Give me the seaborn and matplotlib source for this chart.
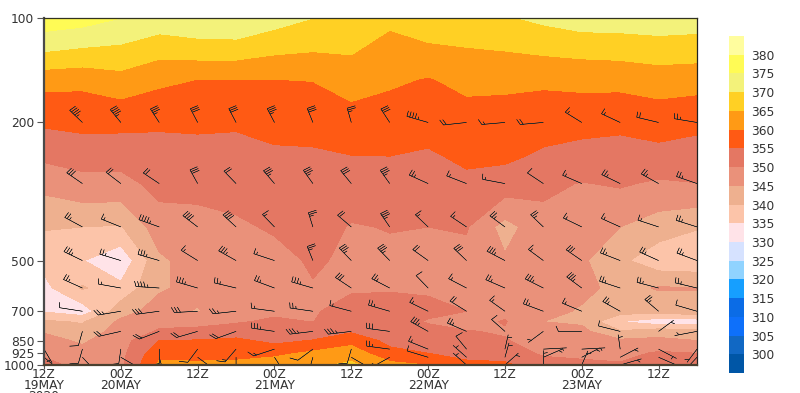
import numpy as np
import matplotlib
matplotlib.use("Agg")
import matplotlib.pyplot as plt
from matplotlib.colors import BoundaryNorm, ListedColormap
from matplotlib.transforms import Affine2D
import seaborn as sns

sns.set_theme(style="ticks")
plt.rcParams['font.family'] = ['DejaVu Sans']

hours = [6 * i for i in range(18)]
pressure = [100, 125, 150, 175, 200, 250, 300, 400, 500, 600, 700, 750, 800, 850, 925, 1000]
theta_100 = [378, 377, 375, 372.9, 374, 374.5, 372, 370, 368.5, 366, 368.6, 368, 369.5, 371, 372.4, 372.5, 373, 372.5]
theta_125 = [370, 368.9, 368.4, 366.3, 367, 367, 365.6, 365, 365.3, 363, 363.5, 364.5, 364.9, 365.6, 366.1, 366.4, 366.9, 366.7]
theta_150 = [362, 361.6, 363.3, 361.2, 360, 360, 360, 360.2, 362.5, 360.8, 359.7, 361.3, 360.7, 361, 361.6, 361.7, 362.7, 362.3]
theta_175 = [358.1, 358.3, 359.4, 358, 357.8, 357.8, 358, 358, 359.9, 359, 358.1, 359.5, 359.6, 358.7, 358.7, 358.5, 359.5, 358.8]
theta_200 = [355.7, 356.3, 356.3, 355.6, 355.8, 355.5, 356.4, 356.4, 358.1, 357.5, 356.7, 358.2, 358.2, 356.9, 356.8, 356.3, 357.3, 356.1]
theta_250 = [351, 352, 351.8, 353.2, 353.3, 353.5, 354.2, 354.4, 354.9, 355, 354.4, 355.9, 355.9, 354.2, 352.9, 352.5, 353.2, 352.9]
theta_300 = [346.4, 348.3, 348.4, 351.5, 351.2, 351.8, 352.8, 353.3, 352.2, 353.1, 352.6, 353.9, 352.7, 350.9, 349.8, 350.5, 349.3, 349.9]
theta_400 = [340.4, 340, 339.6, 347.6, 348.5, 349.2, 350.6, 351.8, 349.7, 350.2, 350, 350.4, 343, 348.5, 347, 345, 342.2, 340.3]
theta_500 = [336.4, 335.2, 331, 344, 347.5, 347.5, 348.2, 350.7, 349, 349, 349, 348.5, 345.7, 347.5, 345.8, 341, 337, 336.5]
theta_600 = [333.5, 340.5, 336.4, 344.4, 346.5, 347, 347.5, 349.6, 349.4, 349.7, 349.5, 348.3, 347.5, 347.8, 346.5, 343.3, 345.4, 345.2]
theta_700 = [334.5, 332, 343, 347, 344.6, 348, 349, 349.5, 351.9, 351.5, 351, 350, 349, 347, 344.3, 342, 342, 343.5]
theta_750 = [340.8, 339.5, 346, 348.8, 349, 349.5, 350.8, 349.9, 352.8, 352.2, 349.6, 348.5, 350.3, 345, 344.2, 335, 331.5, 332]
theta_800 = [344.6, 342, 347, 350.5, 350.8, 352.5, 352.3, 352.2, 354.4, 353, 351.5, 350.2, 349.6, 347, 346.3, 340.5, 343, 342]
theta_850 = [346.5, 344.3, 348, 355, 355.3, 356, 353.7, 355.2, 358.3, 353.6, 353.3, 351.3, 350.3, 348, 347.5, 345.8, 346, 345]
theta_925 = [349.5, 346.5, 348.5, 358.5, 358, 358.6, 358.7, 361, 362.7, 356.5, 355, 353.7, 352.5, 349.3, 349, 348.3, 350.7, 350]
theta_1000 = [351, 349, 349, 361, 361, 361, 363, 364, 366, 361.5, 360, 356, 356, 352, 351, 350.6, 353, 351]
theta_rows = [theta_100, theta_125, theta_150, theta_175, theta_200, theta_250, theta_300, theta_400,
              theta_500, theta_600, theta_700, theta_750, theta_800, theta_850, theta_925, theta_1000]

n = np.nan
barb_levels = [200, 300, 400, 500, 600, 700, 800, 900, 950, 1000]
dir_200 = [n, 327, 333, 338, 342, 342, 342, 346, 350, 338, 295, 260, 262, 262, 315, 307, 291, 285]
spd_200 = [n, 45, 45, 35, 30, 30, 35, 30, 25, 30, 45, 20, 15, 20, 15, 15, 20, 25]
dir_300 = [n, 318, 321, 317, 341, 329, 332, 336, 333, 336, 306, 302, 287, 317, 305, 308, 312, 299]
spd_300 = [n, 30, 20, 20, 30, 20, 35, 35, 30, 35, 25, 15, 15, 10, 15, 25, 25, 25]
dir_400 = [n, 311, 303, 300, 321, 326, 329, 349, 324, 337, 327, 317, 320, 327, 308, 306, 298, 297]
spd_400 = [n, 25, 15, 45, 40, 40, 15, 25, 20, 35, 15, 15, 25, 25, 15, 15, 15, 25]
dir_500 = [n, 308, 296, 295, 315, 312, 298, 346, 329, 329, 319, 327, 310, 320, 318, 302, 306, 301]
spd_500 = [n, 35, 25, 35, 15, 35, 15, 25, 35, 35, 20, 30, 35, 15, 30, 25, 25, 25]
dir_600 = [n, 306, 286, 276, 295, 291, 301, 295, 317, 310, 329, 310, 305, 309, 320, 298, 293, 291]
spd_600 = [n, 25, 15, 45, 35, 25, 25, 35, 30, 25, 10, 15, 25, 35, 35, 25, 25, 25]
dir_700 = [n, 284, 255, 258, 265, 260, 282, 283, 293, 295, 308, 315, 319, 301, 304, 312, 324, 295]
spd_700 = [n, 10, 25, 30, 30, 25, 15, 25, 15, 25, 15, 20, 15, 25, 15, 25, 25, 10]
dir_800 = [n, 190, 250, 238, 245, 240, 283, 259, 259, 282, 312, 305, 325, 220, 270, 292, 40, 253]
spd_800 = [n, 10, 20, 20, 20, 20, 35, 35, 35, 30, 35, 25, 10, 5, 10, 10, 5, 5]
dir_900 = [160, 190, 185, 180, 205, 208, 242, 220, 190, 282, 303, 333, 8, 85, 85, 355, 130, 205]
spd_900 = [5, 10, 10, 10, 10, 15, 15, 10, 10, 25, 15, 10, 5, 5, 5, 5, 5, 5]
dir_950 = [143, 150, 133, 170, 140, 180, 158, 190, 133, 228, 296, 325, 10, 55, 50, 50, 125, 210]
spd_950 = [5, 5, 5, 5, 5, 5, 5, 5, 5, 5, 10, 5, 5, 5, 5, 5, 5, 5]
dir_1000 = [n, n, n, n, n, n, n, n, n, n, n, 325, 35, 0, 15, 65, n, n]
spd_1000 = [n, n, n, n, n, n, n, n, n, n, n, 5, 5, 5, 5, 5, n, n]
dir_rows = [dir_200, dir_300, dir_400, dir_500, dir_600, dir_700, dir_800, dir_900, dir_950, dir_1000]
spd_rows = [spd_200, spd_300, spd_400, spd_500, spd_600, spd_700, spd_800, spd_900, spd_950, spd_1000]

contour_levels = list(range(295, 390, 5))
colors = ["#0056a6", "#1168c4", "#0e70fa", "#0b6ce6", "#169fff", "#90d3ff", "#d6e2ff", "#ffe3e8", "#fcc4a9",
          "#eeb08f", "#ea917a", "#e47763", "#ff5a14", "#ff9a15", "#ffd024", "#f3f27a", "#fffb55", "#fffd9e"]
cbar_ticks = list(range(300, 385, 5))
pressure_ticks = [100, 200, 500, 700, 850, 925, 1000]
time_ticks = [0, 12, 24, 36, 48, 60, 72, 84, 96]
time_labels = ["12Z\n19MAY\n2020", "00Z\n20MAY", "12Z", "00Z\n21MAY", "12Z", "00Z\n22MAY", "12Z", "00Z\n23MAY", "12Z"]

W, H = 800, 393
fig = plt.figure(figsize=(W / 100, H / 100), dpi=100)
ax = fig.add_axes([44 / W, 1 - 365 / H, 653 / W, 347 / H])
palette = sns.color_palette(colors)
cmap = ListedColormap(palette)
norm = BoundaryNorm(contour_levels, cmap.N)
cf = ax.contourf(hours, pressure, np.array(theta_rows), levels=contour_levels, cmap=cmap, norm=norm)

SQUASH = 0.62
for lev, ds, ss in zip(barb_levels, dir_rows, spd_rows):
    d = np.radians(np.array(ds, dtype=float))
    s = np.array(ss, dtype=float)
    ok = np.isfinite(d)
    h = np.array(hours, dtype=float)[ok]
    b = ax.barbs(h, np.full(h.shape, lev, dtype=float), -s[ok] * np.sin(d[ok]), -s[ok] * np.cos(d[ok]),
                 length=5.8, linewidth=0.35, barbcolor="#2a2a2a", pivot="tip",
                 sizes=dict(spacing=0.13, height=0.36, width=0.2))
    b.set_transform(Affine2D().scale(1, SQUASH))

ax.set_yscale("log")
ax.set_ylim(1000, 100)
ax.set_xlim(0, 102)
ax.set_yticks(pressure_ticks)
ax.set_yticklabels([str(p) for p in pressure_ticks])
ax.minorticks_off()
ax.set_xticks(time_ticks)
ax.set_xticklabels(time_labels, linespacing=0.82)
ax.tick_params(axis="y", length=5, width=0.8, color="#555555", labelsize=8.8, labelcolor="#333333", pad=2)
ax.tick_params(axis="x", length=3, width=0.8, color="#555555", labelsize=8.8, labelcolor="#333333", pad=-1)
for side, lw, c in [("left", 1.6, "#4a4a4a"), ("bottom", 1.6, "#4a4030"), ("top", 0.9, "#333320"), ("right", 0.9, "#222222")]:
    ax.spines[side].set_linewidth(lw)
    ax.spines[side].set_color(c)

cax = fig.add_axes([729 / W, 1 - 373 / H, 15 / W, 337 / H])
cb = fig.colorbar(cf, cax=cax, ticks=cbar_ticks, spacing="uniform")
cb.outline.set_visible(False)
cb.ax.minorticks_off()
cb.ax.tick_params(which="both", length=0, labelsize=8.8, labelcolor="#333333", pad=5)
cb.set_ticklabels([str(t) for t in cbar_ticks])

fig.savefig("out.png", dpi=100)
